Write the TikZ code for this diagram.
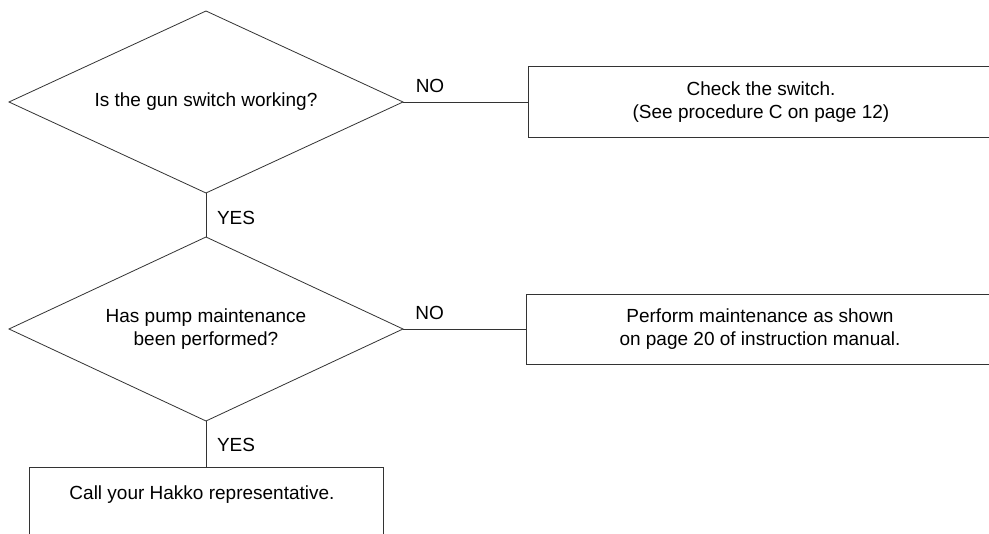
\documentclass[tikz,border=0pt]{standalone}
\usepackage{fontspec}
\setmainfont{Liberation Sans}
\usetikzlibrary{shapes.geometric}
\begin{document}
\begin{tikzpicture}[x=1pt,y=-1pt,
  every node/.style={font=\fontsize{19}{22.5}\selectfont, text=black},
  decision/.style={draw=black!80, line width=0.8pt, diamond, shape aspect=2.165,
    minimum width=394pt, minimum height=182pt, inner sep=0pt, outer sep=0pt, align=center},
  actionbox/.style={draw=black!80, line width=0.8pt, rectangle, inner sep=0pt,
    outer sep=0pt, align=center},
  link/.style={draw=black!80, line width=0.8pt},
  answer/.style={inner sep=0pt, outer sep=0pt}
]
\useasboundingbox (0,0) rectangle (989,534);
\fill[white] (0,0) rectangle (989,534);
\clip (0,0) rectangle (989,534);

% decisions
\node[decision] (q1) at (206,102) {Is the gun switch working?};
\node[decision, shape aspect=2.141, minimum height=184pt] (q2) at (206,329)
  {Has pump maintenance\\been performed?};

% actions (the right-hand boxes and the bottom box run past the page edge)
\node[actionbox, minimum width=466pt, minimum height=71pt] (a1) at (761,102)
  {Check the switch.\\(See procedure C on page 12)};
\node[actionbox, minimum width=468pt, minimum height=70pt] (a2) at (760,329)
  {Perform maintenance as shown\\on page 20 of instruction manual.};
\node[actionbox, minimum width=354pt, minimum height=90pt, anchor=north] (a3) at (206,467) {};
\node[inner sep=0pt] (a3text) at (202,495) {Call your Hakko representative.};

% connectors
\draw[link] (q1.east) -- node[answer, pos=0.216, yshift=16pt] {NO} (a1.west);
\draw[link] (q2.east) -- node[answer, pos=0.216, yshift=16pt] {NO} (a2.west);
\draw[link] (q1.south) -- node[answer, midway, anchor=west, xshift=11pt, yshift=-3pt] {YES} (q2.north);
\draw[link] (q2.south) -- node[answer, midway, anchor=west, xshift=11pt, yshift=-1pt] {YES} (a3.north);
\end{tikzpicture}
\end{document}
